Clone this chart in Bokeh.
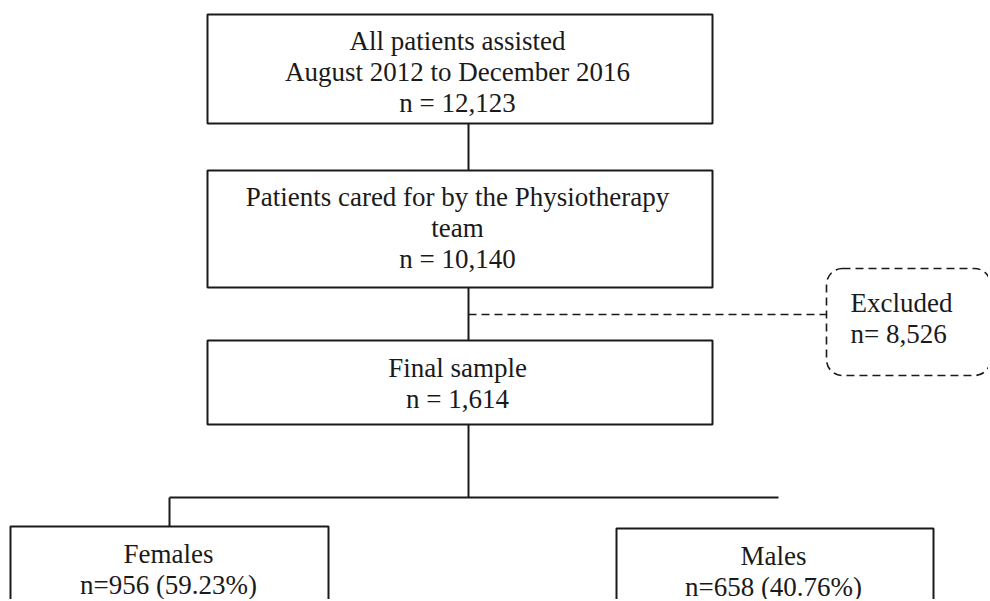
from bokeh.plotting import figure
from bokeh.models import Range1d, ColumnDataSource
from bokeh.core.properties import value
from bokeh.embed import file_html
from bokeh.resources import INLINE

# ---- data (flowchart content) ----
node_ids = ["all", "physio", "final", "excluded", "females", "males"]
node_titles = [
    ["All patients assisted", "August 2012 to December 2016"],
    ["Patients cared for by the Physiotherapy", "team"],
    ["Final sample"],
    ["Excluded"],
    ["Females"],
    ["Males"],
]
node_counts = ["12,123", "10,140", "1,614", "8,526", "956", "658"]
node_shares = [None, None, None, None, "59.23%", "40.76%"]
count_formats = ["n = {c}", "n = {c}", "n = {c}", "n= {c}", "n={c} ({s})", "n={c} ({s})"]

# ---- layout (screen pixels) ----
W, H = 988, 599
box_left = [207, 207, 207, 826, 10, 616]
box_right = [712, 712, 712, 990, 328, 933]
box_top = [14, 170, 340, 268, 526, 528]
box_bottom = [123, 287, 424, 375, 640, 640]
text_x = [457, 457, 457, 850, 168, 773]
text_y0 = [40, 196, 367, 302, 553, 555]
text_align = ["center", "center", "center", "left", "center", "center"]
line_step = 31
dashed_nodes = ["excluded"]

FONT = "Liberation Serif"
FS = "27px"
INK = "#1a1a1a"

p = figure(width=W, height=H, output_backend="svg", toolbar_location=None,
           x_range=Range1d(0, W), y_range=Range1d(H, 0),
           x_axis_location=None, y_axis_location=None, min_border=0,
           outline_line_color=None, background_fill_color="white")
p.grid.visible = False

solid = [i for i, n in enumerate(node_ids) if n not in dashed_nodes]
dashed = [i for i, n in enumerate(node_ids) if n in dashed_nodes]

src_solid = ColumnDataSource(dict(
    left=[box_left[i] for i in solid], right=[box_right[i] for i in solid],
    top=[box_top[i] for i in solid], bottom=[box_bottom[i] for i in solid]))
p.quad(left="left", right="right", top="top", bottom="bottom", source=src_solid,
       fill_color="white", line_color=INK, line_width=2)

src_dash = ColumnDataSource(dict(
    left=[box_left[i] for i in dashed], right=[box_right[i] for i in dashed],
    top=[box_top[i] for i in dashed], bottom=[box_bottom[i] for i in dashed]))
p.quad(left="left", right="right", top="top", bottom="bottom", source=src_dash,
       fill_color="white", line_color=INK, line_width=1.6, line_dash="8 5",
       border_radius=16)

# connectors
cx = 468
p.segment(x0=[cx, cx, cx], y0=[box_bottom[0], box_bottom[1], box_bottom[2]],
          x1=[cx, cx, cx], y1=[box_top[1], box_top[2], 497],
          line_color=INK, line_width=2)
p.segment(x0=[169], y0=[497], x1=[778], y1=[497], line_color=INK, line_width=2)
p.segment(x0=[169], y0=[497], x1=[169], y1=[box_top[4]], line_color=INK, line_width=2)
p.segment(x0=[cx], y0=[314], x1=[box_left[3]], y1=[314], line_color=INK,
          line_width=1.6, line_dash="8 5")

# texts
xs, ys, txt, aligns = [], [], [], []
for i in range(len(node_ids)):
    lines = list(node_titles[i]) + [count_formats[i].format(c=node_counts[i], s=node_shares[i])]
    for k, ln in enumerate(lines):
        xs.append(text_x[i]); ys.append(text_y0[i] + k * line_step)
        txt.append(ln); aligns.append(text_align[i])
src_t = ColumnDataSource(dict(x=xs, y=ys, text=txt, align=aligns))
p.text(x="x", y="y", text="text", source=src_t, text_align="align",
       text_baseline="middle", text_font=value(FONT), text_font_size=FS,
       text_color=INK)

open("out.html", "w").write(file_html(p, INLINE))
